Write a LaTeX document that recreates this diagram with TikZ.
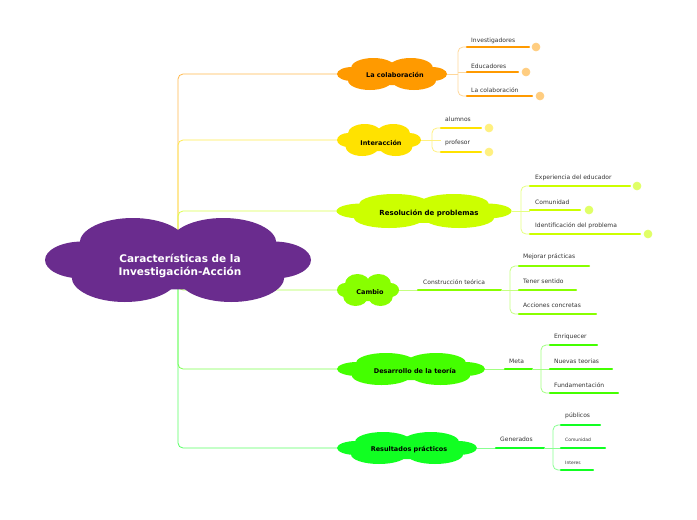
\documentclass[tikz,border=0pt]{standalone}
\usepackage{fontspec}
\setmainfont{DejaVu Sans}
\definecolor{cpur}{HTML}{6A2C8E}
\definecolor{cor}{HTML}{FF9A00}
\definecolor{cye}{HTML}{FFE200}
\definecolor{cli}{HTML}{CCFF00}
\definecolor{cca}{HTML}{88FF00}
\definecolor{cde}{HTML}{44FF00}
\definecolor{cre}{HTML}{11FF22}
\tikzset{
 lab/.style={font=\fontsize{6}{7}\selectfont, text=black!80, anchor=south west, inner sep=1pt},
 bar/.style={line width=2.2pt, line cap=round},
 conn/.style={line width=0.8pt, rounded corners=5pt},
 num/.style={circle, draw, line width=0.6pt, minimum size=8pt, inner sep=0pt, font=\fontsize{4}{4}\selectfont, fill=white},
 ctext/.style={font=\bfseries\fontsize{6.5}{7}\selectfont, text=black}
}
\newcommand{\mycloud}[5]{%
 \fill[#5] (#1-0.17*#3,#2-0.2*#4) ellipse ({0.2*#3} and {0.3*#4});
 \fill[#5] (#1+0.17*#3,#2-0.2*#4) ellipse ({0.2*#3} and {0.3*#4});
 \fill[#5] (#1-0.2*#3,#2+0.2*#4) ellipse ({0.2*#3} and {0.3*#4});
 \fill[#5] (#1+0.2*#3,#2+0.2*#4) ellipse ({0.2*#3} and {0.3*#4});
 \fill[#5] (#1-0.36*#3,#2) ellipse ({0.14*#3} and {0.22*#4});
 \fill[#5] (#1+0.36*#3,#2) ellipse ({0.14*#3} and {0.22*#4});
 \fill[#5] (#1,#2) ellipse ({0.35*#3} and {0.35*#4});
}
\begin{document}
\begin{tikzpicture}[x=1pt,y=-1pt]
\useasboundingbox (0,0) rectangle (697,520);
% spine connectors
\coordinate (hub) at (178,260);
\draw[conn,cor!70] (hub) -- (178,74) -- (338,74);
\draw[conn,cye!70] (hub) -- (178,140) -- (338,140);
\draw[conn,cli!70] (hub) -- (178,211) -- (338,211);
\draw[conn,cca!70] (hub) -- (178,290) -- (338,290);
\draw[conn,cde!70] (hub) -- (178,369) -- (338,369);
\draw[conn,cre!70] (hub) -- (178,448) -- (338,448);
% central
\mycloud{178}{260}{266}{84}{cpur}
\node[font=\bfseries\fontsize{10.5}{13}\selectfont, text=white, align=center] (c) at (180,266) {Características de la\\Investigación-Acción};
% clouds
\mycloud{392}{74}{110}{32}{cor}\node[ctext] (n1) at (395,75) {La colaboración};
\mycloud{379}{140}{84}{32}{cye}\node[ctext] (n2) at (381,143) {Interacción};
\mycloud{424}{211}{175}{34}{cli}\node[ctext,font=\bfseries\fontsize{7}{8}\selectfont] (n3) at (429,213) {Resolución de problemas};
\mycloud{368}{290}{62}{32}{cca}\node[ctext] (n4) at (370,292) {Cambio};
\mycloud{411}{369}{148}{32}{cde}\node[ctext] (n5) at (415,371) {Desarrollo de la teoría};
\mycloud{407}{448}{140}{32}{cre}\node[ctext] (n6) at (409,450) {Resultados prácticos};
% branch 1
\draw[conn,cor!40] (447,74) -- (458,74);
\draw[conn,cor!40] (467,47) -- (458,47) -- (458,96) -- (467,96);
\draw[conn,cor!40] (458,72) -- (467,72);
\draw[bar,cor] (467,47) -- (529,47); \node[num,cor!50,text=cor!50] at (536,47) {2}; \node[lab] at (470,45) {Investigadores};
\draw[bar,cor] (467,72) -- (518,72); \node[num,cor!50,text=cor!50] at (526,72) {3}; \node[lab] at (470,70) {Educadores};
\draw[bar,cor] (467,96) -- (532,96); \node[num,cor!50,text=cor!50] at (540,96) {4}; \node[lab] at (470,94) {La colaboración};
% branch 2
\draw[conn,cye!50] (421,140) -- (441,140);
\draw[conn,cye!50] (441,128) -- (432,128) -- (432,152) -- (441,152);
\draw[bar,cye] (441,128) -- (481,128); \node[num,cye!50,text=cye!50] at (489,128) {1}; \node[lab] at (444,123) {alumnos};
\draw[bar,cye] (441,152) -- (481,152); \node[num,cye!50,text=cye!50] at (489,152) {1}; \node[lab] at (444,147) {profesor};
% branch 3
\draw[conn,cli!50] (512,211) -- (530,211);
\draw[conn,cli!50] (530,186) -- (521,186) -- (521,234) -- (530,234);
\draw[bar,cli] (530,186) -- (630,186); \node[num,cli!60,text=cli!60] at (637,186) {2}; \node[lab] at (534,182) {Experiencia del educador};
\draw[bar,cli] (530,210) -- (580,210); \node[num,cli!60,text=cli!60] at (589,210) {1}; \node[lab] at (534,206) {Comunidad};
\draw[bar,cli] (530,234) -- (640,234); \node[num,cli!60,text=cli!60] at (648,234) {2}; \node[lab] at (534,230) {Identificación del problema};
% branch 4
\draw[conn,cca!50] (399,290) -- (418,290);
\draw[bar,cca] (418,290) -- (501,290); \node[lab] at (422,286) {Construcción teórica};
\draw[conn,cca!50] (501,290) -- (519,290);
\draw[conn,cca!50] (519,266) -- (510,266) -- (510,314) -- (519,314);
\draw[bar,cca] (519,266) -- (589,266); \node[lab] at (522,261) {Mejorar prácticas};
\draw[bar,cca] (519,290) -- (576,290); \node[lab] at (522,285) {Tener sentido};
\draw[bar,cca] (519,314) -- (596,314); \node[lab] at (522,309) {Acciones concretas};
% branch 5
\draw[conn,cde!50] (485,369) -- (505,369);
\draw[bar,cde] (505,369) -- (532,369); \node[lab] at (508,365) {Meta};
\draw[conn,cde!50] (532,369) -- (550,369);
\draw[conn,cde!50] (550,345) -- (541,345) -- (541,393) -- (550,393);
\draw[bar,cde] (550,345) -- (597,345); \node[lab] at (553,341) {Enriquecer};
\draw[bar,cde] (550,369) -- (612,369); \node[lab] at (553,365) {Nuevas teorias};
\draw[bar,cde] (550,393) -- (618,393); \node[lab] at (553,389) {Fundamentación};
% branch 6
\draw[conn,cre!50] (477,448) -- (496,448);
\draw[bar,cre] (496,448) -- (544,448); \node[lab] at (499,443) {Generados};
\draw[conn,cre!50] (544,448) -- (561,448);
\draw[conn,cre!50] (561,425) -- (553,425) -- (553,470) -- (561,470);
\draw[bar,cre] (561,425) -- (600,425); \node[lab] at (564,420) {públicos};
\draw[bar,cre] (561,448) -- (605,448); \node[lab,font=\fontsize{4.5}{5}\selectfont] at (564,443) {Comunidad};
\draw[bar,cre] (561,470) -- (593,470); \node[lab,font=\fontsize{4.5}{5}\selectfont] at (564,466) {Interes};
\end{tikzpicture}
\end{document}
